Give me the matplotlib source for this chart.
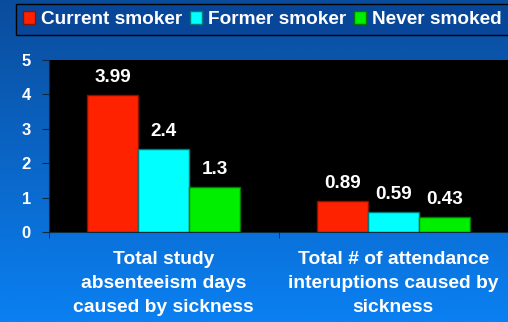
import matplotlib

matplotlib.use("Agg")
import matplotlib.pyplot as plt
import numpy as np
from matplotlib.colors import LinearSegmentedColormap

categories = [
    "Total study\nabsenteeism days\ncaused by sickness",
    "Total # of attendance\ninteruptions caused by\nsickness",
]
series_names = ["Current smoker", "Former smoker", "Never smoked"]
current_smoker = [3.99, 0.89]
former_smoker = [2.4, 0.59]
never_smoked = [1.3, 0.43]
y_ticks = [0, 1, 2, 3, 4, 5]

bar_colors = ["#ff2200", "#00ffff", "#00ee00"]
edge_colors = ["#8a1000", "#007a7a", "#007a00"]

plt.rcParams["font.family"] = ["Liberation Sans", "DejaVu Sans"]
plt.rcParams["font.weight"] = "bold"

fig = plt.figure(figsize=(5.08, 3.22), dpi=100)

# blue gradient behind everything
bg = fig.add_axes([0, 0, 1, 1], zorder=-10)
grad = np.linspace(0, 1, 256).reshape(-1, 1)
cmap = LinearSegmentedColormap.from_list("bg", ["#0a4c9c", "#0a80f2"])
bg.imshow(grad, aspect="auto", cmap=cmap, extent=[0, 1, 0, 1], origin="upper")
bg.set_axis_off()

ax = fig.add_axes([0.0965, 0.2795, 0.9035, 0.5342])
ax.set_facecolor("black")

x = np.arange(len(categories))
width = 0.222
all_series = [current_smoker, former_smoker, never_smoked]
bars = []
for i, values in enumerate(all_series):
    b = ax.bar(
        x + (i - 1) * width,
        values,
        width,
        color=bar_colors[i],
        edgecolor=edge_colors[i],
        linewidth=1,
        label=series_names[i],
        zorder=2,
    )
    bars.append(b)
    for rect, v in zip(b, values):
        ax.annotate(
            f"{v:g}",
            (rect.get_x() + rect.get_width() / 2, v),
            xytext=(0, 9.5),
            textcoords="offset points",
            ha="center",
            va="baseline",
            color="white",
            fontsize=13.6,
            fontweight="bold",
        )

ax.set_xlim(-0.5, 1.5)
ax.set_ylim(0, 5)
ax.set_yticks(y_ticks)
ax.set_xticks(x)
ax.set_xticklabels(categories, linespacing=1.52)
ax.set_xticks([-0.5, 0.5, 1.5], minor=True)
ax.tick_params(axis="x", which="major", length=0, pad=14, labelsize=13.9, colors="white")
ax.tick_params(axis="x", which="minor", length=4, color="#0b2a40", direction="out")
ax.tick_params(axis="y", length=5, color="#0b2a40", labelsize=12, labelcolor="white", pad=8)
for lab in ax.get_xticklabels() + ax.get_yticklabels():
    lab.set_fontweight("bold")

for side in ["top", "right"]:
    ax.spines[side].set_visible(False)
ax.spines["left"].set_color("#0b2a40")
ax.spines["bottom"].set_color("#0b2a40")

leg = fig.legend(
    handles=bars,
    labels=series_names,
    loc="upper left",
    bbox_to_anchor=(0.031, 0.988),
    ncol=3,
    frameon=True,
    fancybox=False,
    facecolor="#08469a",
    edgecolor="black",
    framealpha=1,
    fontsize=13.7,
    handlelength=0.65,
    handleheight=0.65,
    handletextpad=0.3,
    columnspacing=0.4,
    borderpad=0.38,
    borderaxespad=0,
)
for t in leg.get_texts():
    t.set_color("white")
    t.set_fontweight("bold")

fig.savefig("out.png", dpi=100)
